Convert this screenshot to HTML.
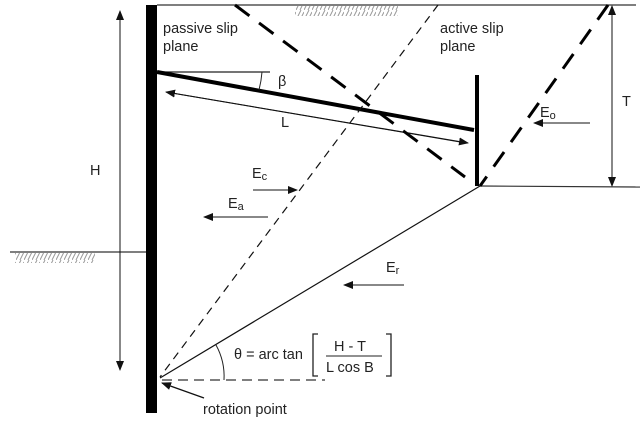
<!DOCTYPE html>
<html><head><meta charset="utf-8"><style>body{margin:0;background:#fff}svg{display:block}text{font-family:"Liberation Sans",sans-serif;font-size:14.5px;fill:#222}</style></head>
<body>
<svg width="640" height="426" viewBox="0 0 640 426" xmlns="http://www.w3.org/2000/svg">
<defs>
<marker id="a" markerWidth="10" markerHeight="8" refX="9" refY="4" orient="auto" markerUnits="userSpaceOnUse"><path d="M0,0 L10,4 L0,8 z" fill="#111"/></marker>
<pattern id="h" width="8" height="10" patternUnits="userSpaceOnUse"><path d="M0,10 L5,0 M4,10 L8,2" stroke="#999" stroke-width="1"/></pattern>
</defs>
<line x1="157" y1="5" x2="636" y2="5" stroke="#333" stroke-width="1.2"/>
<rect x="295" y="6" width="103" height="10" fill="url(#h)"/>
<line x1="10" y1="252" x2="146" y2="252" stroke="#333" stroke-width="1.2"/>
<rect x="15" y="253" width="80" height="10" fill="url(#h)"/>
<line x1="480" y1="186" x2="640" y2="187" stroke="#333" stroke-width="1.2"/>
<rect x="146" y="5" width="11" height="408" fill="#000"/>
<line x1="120" y1="370" x2="120" y2="11" stroke="#111" marker-end="url(#a)"/>
<line x1="120" y1="11" x2="120" y2="370" stroke="#111" marker-end="url(#a)"/>
<text x="90" y="175" font-size="15">H</text>
<line x1="612" y1="15" x2="612" y2="186" stroke="#111" marker-end="url(#a)"/>
<line x1="612" y1="180" x2="612" y2="6" stroke="#111" marker-end="url(#a)"/>
<text x="622" y="106" font-size="15">T</text>
<line x1="157" y1="72" x2="270" y2="72" stroke="#222" stroke-width="1.2"/>
<line x1="157" y1="72" x2="474" y2="130" stroke="#000" stroke-width="4"/>
<path d="M262,72 A105,105 0 0 1 259,90" fill="none" stroke="#222"/>
<text x="278" y="86" font-family="Liberation Serif" font-size="19">β</text>
<line x1="466" y1="143" x2="166" y2="92" stroke="#111" marker-end="url(#a)"/>
<line x1="166" y1="92" x2="468" y2="143" stroke="#111" marker-end="url(#a)"/>
<text x="281" y="127">L</text>
<line x1="477" y1="75" x2="477" y2="186" stroke="#000" stroke-width="4"/>
<line x1="235" y1="5" x2="465" y2="177" stroke="#000" stroke-width="3" stroke-dasharray="18,12"/>
<line x1="608" y1="5" x2="480" y2="186" stroke="#000" stroke-width="3" stroke-dasharray="18,12"/>
<line x1="438" y1="5" x2="160" y2="377" stroke="#111" stroke-width="1.2" stroke-dasharray="8,6"/>
<line x1="480" y1="186" x2="160" y2="378" stroke="#111" stroke-width="1.2"/>
<line x1="162" y1="380" x2="325" y2="380" stroke="#555" stroke-width="1.5" stroke-dasharray="10,6"/>
<path d="M216,345 A65,65 0 0 1 224,380" fill="none" stroke="#222"/>
<text x="163" y="33">passive slip</text>
<text x="163" y="51">plane</text>
<text x="440" y="33">active slip</text>
<text x="440" y="51">plane</text>
<line x1="590" y1="123" x2="534" y2="123" stroke="#111" marker-end="url(#a)"/>
<text x="540" y="117">E<tspan font-size="11" dy="2">o</tspan></text>
<line x1="253" y1="190" x2="297" y2="190" stroke="#111" marker-end="url(#a)"/>
<text x="252" y="178">E<tspan font-size="11" dy="2">c</tspan></text>
<line x1="268" y1="217" x2="204" y2="217" stroke="#111" marker-end="url(#a)"/>
<text x="228" y="208">E<tspan font-size="11" dy="2">a</tspan></text>
<line x1="404" y1="285" x2="344" y2="285" stroke="#111" marker-end="url(#a)"/>
<text x="386" y="272">E<tspan font-size="11" dy="2">r</tspan></text>
<text x="234" y="359">θ = arc tan</text>
<path d="M318,334 L313,334 L313,376 L318,376 M386,334 L391,334 L391,376 L386,376" fill="none" stroke="#222" stroke-width="1.3"/>
<text x="334" y="351">H - T</text>
<line x1="326" y1="356" x2="382" y2="356" stroke="#222"/>
<text x="326" y="372">L cos B</text>
<line x1="204" y1="398" x2="162" y2="383" stroke="#111" stroke-width="1.3" marker-end="url(#a)"/>
<text x="203" y="414">rotation point</text>
</svg>
</body></html>
